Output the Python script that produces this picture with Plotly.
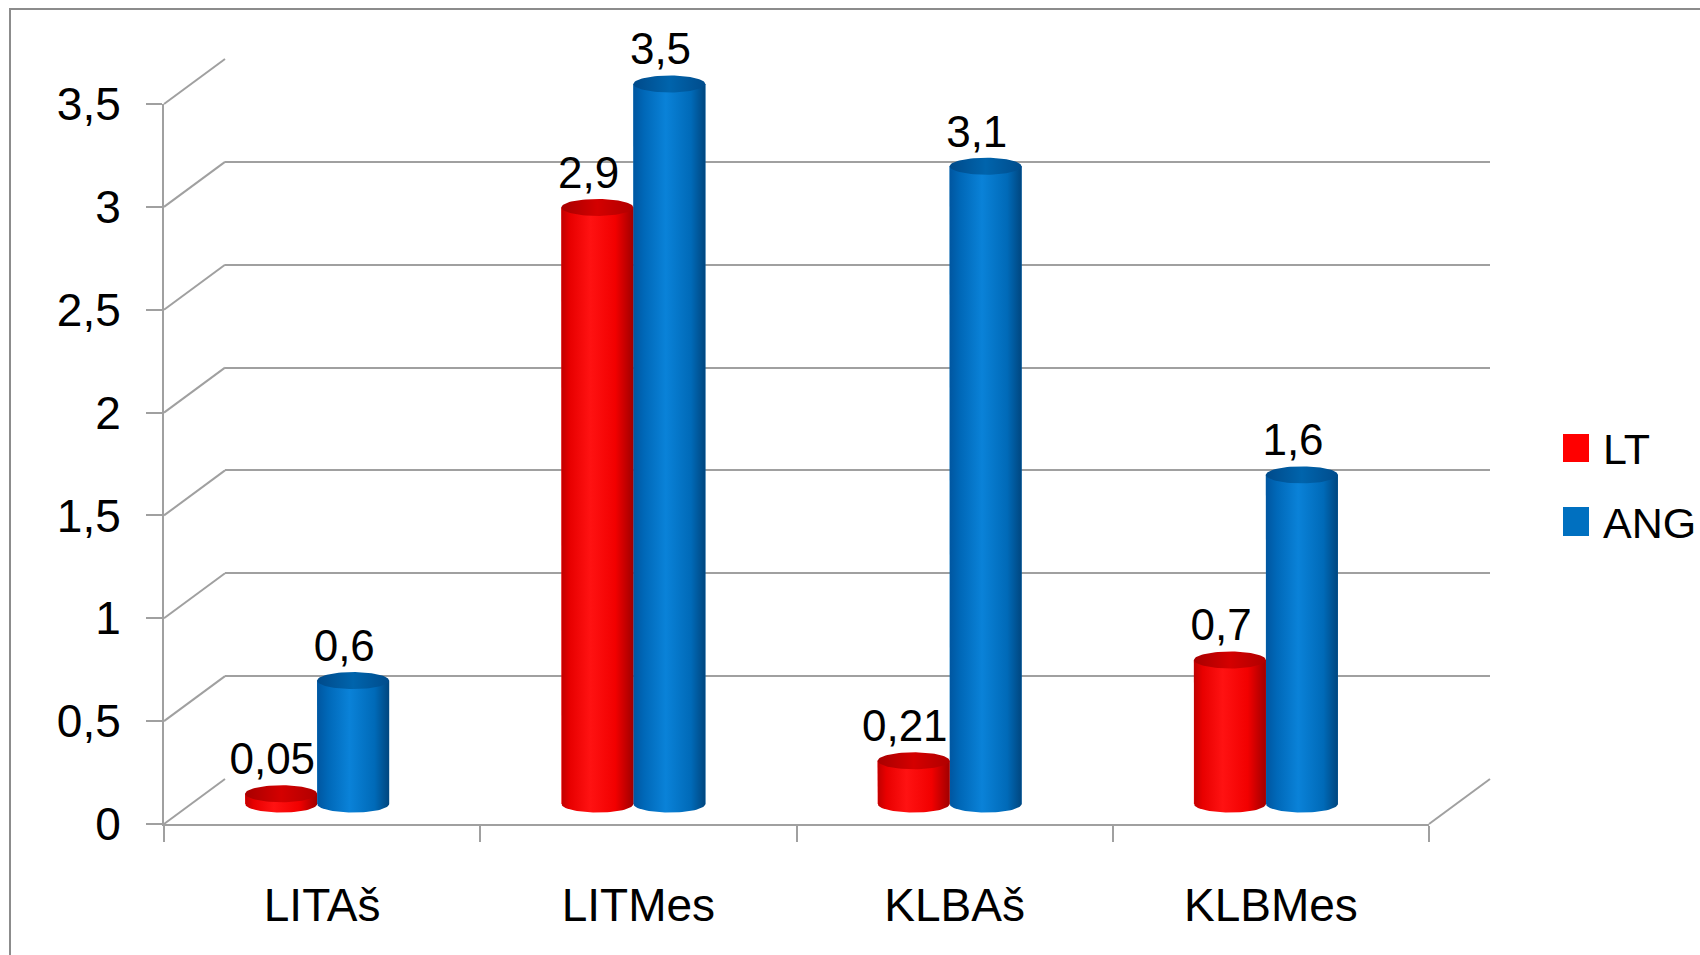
import numpy as np
import plotly.graph_objects as go

# ---------------- data ----------------
categories = ["LITAš", "LITMes", "KLBAš", "KLBMes"]
series_names = ["LT", "ANG"]
lt_values = [0.05, 2.9, 0.21, 0.7]
ang_values = [0.6, 3.5, 3.1, 1.6]
y_tick_values = [0, 0.5, 1, 1.5, 2, 2.5, 3, 3.5]

# ---------------- styling / geometry ----------------
W, H = 1700, 955
FONT = "Liberation Sans, Arial, sans-serif"
GRID = "#A0A0A0"
RED, BLUE = "#FF0000", "#0070C0"

def px(x):
    return x / W

def py(y):
    return 1 - y / H

Y_MAX = 3.5
FX0, FX1 = 164, 1429          # front frame, pixels
FY0, FY1 = 824, 104           # pixel y of 0 and Y_MAX on the front frame
SCALE = (FY0 - FY1) / Y_MAX   # px per unit
DX, DY = 61, -45              # depth offset of back wall
BX_SHIFT, BY0 = -5, 804       # bar plane
BAR_PAD = 0.2                 # extra range for the bar plane
HALF_W = 0.1138               # half bar width (category units)
RY = 8.5 / SCALE              # ellipse half height (value units)
LABEL_DX = -0.028             # data label horizontal nudge (category units)

red_body = [[0, "#C00000"], [0.12, "#E80000"], [0.4, "#FF1212"], [0.75, "#F20000"], [1, "#A00000"]]
red_cap = [[0, "#A80000"], [0.5, "#D40000"], [1, "#B00000"]]
blue_body = [[0, "#0056A0"], [0.15, "#0068B8"], [0.45, "#0A82D8"], [0.8, "#006AB8"], [1, "#00467F"]]
blue_cap = [[0, "#004A8A"], [0.5, "#0064AC"], [1, "#004C8C"]]

fig = go.Figure()

# back wall subplot anchor trace (invisible)
fig.add_trace(go.Scatter(x=[0.5], y=[0], mode="markers", marker=dict(opacity=0),
                         hoverinfo="skip", showlegend=False, xaxis="x", yaxis="y"))
# front frame subplot anchor trace (invisible)
fig.add_trace(go.Scatter(x=[0], y=[0], mode="markers", marker=dict(opacity=0),
                         hoverinfo="skip", showlegend=False, xaxis="x2", yaxis="y2"))

# bars (data)
xs = list(range(len(categories)))
fig.add_trace(go.Bar(x=xs, y=lt_values, name=series_names[0], marker=dict(color=RED, line=dict(width=0)),
                     xaxis="x3", yaxis="y3", showlegend=False, hoverinfo="skip"))
fig.add_trace(go.Bar(x=xs, y=ang_values, name=series_names[1], marker=dict(color=BLUE, line=dict(width=0)),
                     xaxis="x3", yaxis="y3", showlegend=False, hoverinfo="skip"))

# cylinder shading overlays
th_low = np.linspace(np.pi, 2 * np.pi, 40)
th_full = np.linspace(0, 2 * np.pi, 80)
for i in xs:
    for vals, off, body, cap in ((lt_values, -HALF_W, red_body, red_cap),
                                 (ang_values, HALF_W, blue_body, blue_cap)):
        v = vals[i]
        c = i + off
        bx = [c - HALF_W, c - HALF_W] + list(c + HALF_W * np.cos(th_low)) + [c + HALF_W, c - HALF_W]
        by = [v, 0] + list(RY * np.sin(th_low)) + [v, v]
        fig.add_trace(go.Scatter(x=bx, y=by, mode="lines", fill="toself", line=dict(width=0),
                                 fillgradient=dict(type="horizontal", colorscale=body),
                                 hoverinfo="skip", showlegend=False, xaxis="x3", yaxis="y3"))
        cx = list(c + HALF_W * np.cos(th_full))
        cy = list(v + RY * np.sin(th_full))
        fig.add_trace(go.Scatter(x=cx, y=cy, mode="lines", fill="toself", line=dict(width=0),
                                 fillgradient=dict(type="horizontal", colorscale=cap),
                                 hoverinfo="skip", showlegend=False, xaxis="x3", yaxis="y3"))

# data labels
for vals, off in ((lt_values, -HALF_W), (ang_values, HALF_W)):
    fig.add_trace(go.Scatter(
        x=[i + off + LABEL_DX for i in xs], y=[v + RY for v in vals], mode="text",
        text=[f"{v:g}".replace(".", ",") for v in vals], textposition="top center",
        textfont=dict(family=FONT, size=44, color="black"), cliponaxis=False,
        hoverinfo="skip", showlegend=False, xaxis="x3", yaxis="y3"))

# ---------------- shapes ----------------
shapes = []
for v in y_tick_values:
    shapes.append(dict(type="line", xref="paper", yref="paper", layer="below",
                       x0=px(FX0), y0=py(FY0 - v * SCALE),
                       x1=px(FX0 + DX), y1=py(FY0 + DY - v * SCALE),
                       line=dict(color=GRID, width=2)))
shapes.append(dict(type="line", xref="paper", yref="paper", layer="below",
                   x0=px(FX1), y0=py(FY0), x1=px(FX1 + DX), y1=py(FY0 + DY),
                   line=dict(color=GRID, width=2)))
# outer border
shapes.append(dict(type="rect", xref="paper", yref="paper", layer="below",
                   x0=px(10), y0=py(9), x1=px(W + 20), y1=py(H + 20),
                   line=dict(color="#8C8C8C", width=2), fillcolor="rgba(0,0,0,0)"))
# legend squares
legend_rows = [(series_names[0], RED, 434, 462), (series_names[1], BLUE, 507, 536)]
annotations = []
for name, col, t, b in legend_rows:
    shapes.append(dict(type="rect", xref="paper", yref="paper",
                       x0=px(1563), x1=px(1589), y0=py(b), y1=py(t),
                       fillcolor=col, line=dict(width=0)))
    annotations.append(dict(xref="paper", yref="paper", x=px(1601), y=py((t + b) / 2 + 1),
                            xanchor="left", yanchor="middle", text=name, showarrow=False,
                            font=dict(family=FONT, size=43, color="black")))

fig.update_layout(
    width=W, height=H, autosize=False,
    margin=dict(l=0, r=0, t=0, b=0, pad=0, autoexpand=False),
    paper_bgcolor="white", plot_bgcolor="rgba(0,0,0,0)",
    separators=", ",
    barmode="group", bargap=1 - 4 * HALF_W, bargroupgap=0,
    font=dict(family=FONT, color="black"),
    showlegend=False,
    # back wall
    xaxis=dict(domain=[px(FX0 + DX), px(FX1 + DX)], range=[0, 1], visible=False, anchor="y",
               automargin=False),
    yaxis=dict(domain=[py(FY0 + DY), py(FY1 + DY)], range=[0, Y_MAX], anchor="x", automargin=False,
               tickmode="array", tickvals=y_tick_values, showgrid=True, gridcolor=GRID, gridwidth=2,
               showticklabels=False, ticks="", showline=False, zeroline=False),
    # front frame
    xaxis2=dict(domain=[px(FX0), px(FX1)], range=[-0.5, len(categories) - 0.5], anchor="y2",
                automargin=False,
                tickmode="array", tickvals=xs, ticktext=categories, ticks="",
                showline=True, linecolor=GRID, linewidth=2, showgrid=False, zeroline=False,
                tickfont=dict(family=FONT, size=46, color="black"), ticklabelstandoff=40,
                minor=dict(tickmode="linear", tick0=-0.5, dtick=1, ticks="outside",
                           ticklen=16, tickwidth=2, tickcolor=GRID, showgrid=False)),
    yaxis2=dict(domain=[py(FY0), py(FY1)], range=[0, Y_MAX], anchor="x2", automargin=False,
                tickmode="array", tickvals=y_tick_values, ticks="outside", ticklen=16,
                tickwidth=2, tickcolor=GRID, showline=True, linecolor=GRID, linewidth=2,
                showgrid=False, zeroline=False, ticklabelstandoff=16,
                tickfont=dict(family=FONT, size=46, color="black")),
    # bar plane
    xaxis3=dict(domain=[px(FX0 + BX_SHIFT), px(FX1 + BX_SHIFT)], range=[-0.5, len(categories) - 0.5],
                anchor="y3", visible=False, automargin=False),
    yaxis3=dict(domain=[py(BY0 + BAR_PAD * SCALE), py(BY0 - (Y_MAX + BAR_PAD) * SCALE)],
                range=[-BAR_PAD, Y_MAX + BAR_PAD], anchor="x3", visible=False, automargin=False),
    shapes=shapes,
    annotations=annotations,
)

fig.write_html("out.html")
